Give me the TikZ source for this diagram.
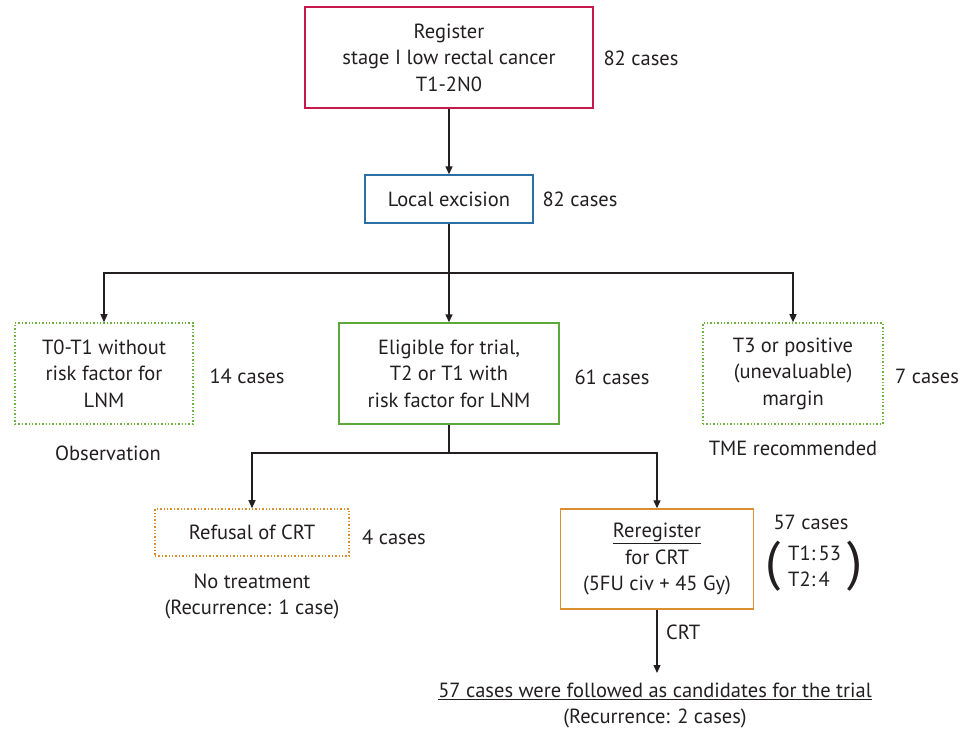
\documentclass[tikz,border=0pt]{standalone}
\usepackage{fontspec}
\setmainfont{PT Sans}
\usetikzlibrary{arrows.meta}
\definecolor{txt}{HTML}{231F20}
\definecolor{regc}{HTML}{C8174A}
\definecolor{locc}{HTML}{2A6FA6}
\definecolor{grnc}{HTML}{5DA83A}
\definecolor{dgrn}{HTML}{6DB33F}
\definecolor{orgc}{HTML}{DB8E2E}
\tikzset{
  every node/.style={text=txt, font=\fontsize{20.5}{26.5}\selectfont},
  box/.style={draw, line width=1.4pt, align=center, inner sep=0pt},
  dotbox/.style={box, dotted, line width=1.6pt},
  lbl/.style={align=center, inner sep=0pt},
  conn/.style={draw=txt, line width=1.3pt},
  arr/.style={conn, -{Triangle[length=8pt,width=7pt]}}
}
\begin{document}
\begin{tikzpicture}[x=1pt,y=-1pt]
\useasboundingbox (0,0) rectangle (960,728);
% boxes
\node[box, draw=regc, minimum width=288pt, minimum height=101pt] (reg) at (449,57.5)
  {Register\\stage I low rectal cancer\\T1-2N0};
\node[box, draw=locc, minimum width=168pt, minimum height=48pt] (loc) at (449,199) {Local excision};
\node[dotbox, draw=dgrn, minimum width=178pt, minimum height=101pt] (lft) at (104,373.5)
  {T0-T1 without\\risk factor for\\LNM};
\node[box, draw=grnc, minimum width=220pt, minimum height=101pt] (elig) at (449,373.5)
  {Eligible for trial,\\T2 or T1 with\\risk factor for LNM};
\node[dotbox, draw=dgrn, minimum width=180pt, minimum height=101pt] (tthree) at (793,373.5)
  {T3 or positive\\(unevaluable)\\margin};
\node[dotbox, draw=orgc, minimum width=194pt, minimum height=47pt] (ref) at (252,532.5) {Refusal of CRT};
\node[box, draw=orgc, minimum width=193pt, minimum height=100pt] (rer) at (657,559)
  {\underline{Reregister}\\for CRT\\(5FU civ + 45 Gy)};
% labels
\node[lbl] (c1) at (641,58) {82 cases};
\node[lbl] (c2) at (580,199) {82 cases};
\node[lbl] (c3) at (247,376) {14 cases};
\node[lbl] (c4) at (612,377) {61 cases};
\node[lbl] (c5) at (927,376) {7 cases};
\node[lbl] (obs) at (108,453) {Observation};
\node[lbl] (tme) at (793,448) {TME recommended};
\node[lbl] (c6) at (394,537) {4 cases};
\node[lbl] (notr) at (252,596.5) {No treatment\\(Recurrence: 1 case)};
\node[lbl] (c7) at (811,522) {57 cases};
\node[lbl, align=left, anchor=west] (tt) at (788,566.5) {T1:\,53\\T2:\,4};
\node[inner sep=0pt, font=\fontsize{54}{54}\selectfont] (lp) at (773,566) {(};
\node[inner sep=0pt, font=\fontsize{54}{54}\selectfont] (rp) at (855,566) {)};
\node[lbl, anchor=west] (crt) at (666,632) {CRT};
\node[lbl] (fin) at (655,705.5) {\underline{57 cases were followed as candidates for the trial}\\(Recurrence: 2 cases)};
% connectors
\coordinate (s1) at (449,273);
\coordinate (s2) at (449,453);
\coordinate (fe) at (657,673);
\draw[arr] (reg.south) -- (loc.north);
\draw[conn] (loc.south) -- (s1);
\draw[arr] (s1) -- (elig.north);
\draw[arr] (s1) -| (lft.north);
\draw[arr] (s1) -| (tthree.north);
\draw[conn] (elig.south) -- (s2);
\draw[arr] (s2) -| (ref.north);
\draw[arr] (s2) -| (rer.north);
\draw[arr] (rer.south) -- (fe);
\end{tikzpicture}
\end{document}
